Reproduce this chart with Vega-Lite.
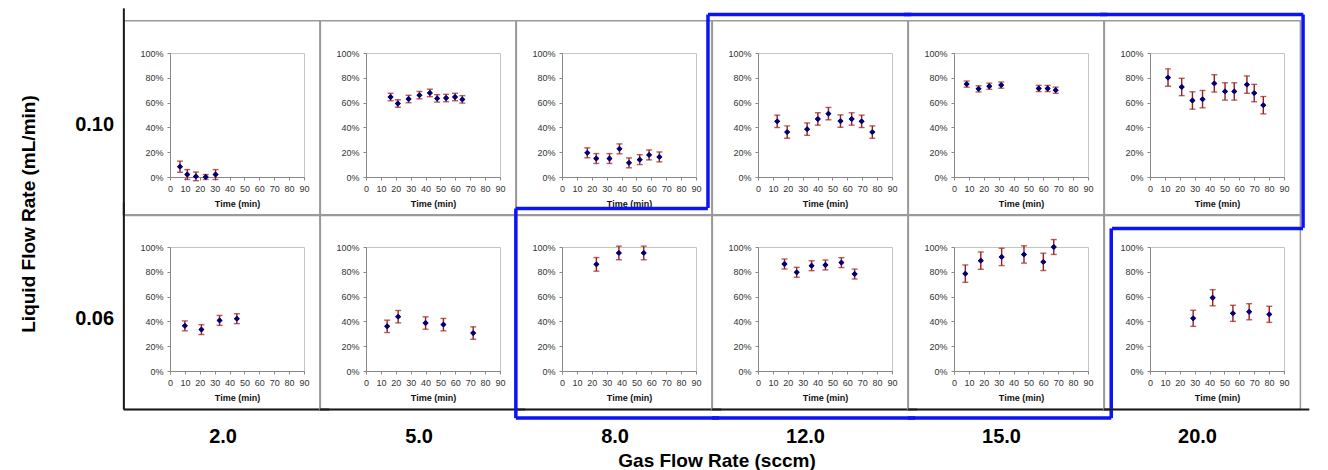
{
  "$schema": "https://vega.github.io/schema/vega-lite/v6.json",
  "background": "white",
  "padding": {"left": 19, "top": 6, "right": 5, "bottom": 0},
  "data": {"values": [
    {"liquid": "0.10", "gas": "2.0", "t": 6.7, "v": 0.083, "e": 0.045},
    {"liquid": "0.10", "gas": "2.0", "t": 11.6, "v": 0.02, "e": 0.04},
    {"liquid": "0.10", "gas": "2.0", "t": 17.4, "v": 0.005, "e": 0.035},
    {"liquid": "0.10", "gas": "2.0", "t": 24.0, "v": 0.0, "e": 0.02},
    {"liquid": "0.10", "gas": "2.0", "t": 30.6, "v": 0.02, "e": 0.04},
    {"liquid": "0.10", "gas": "5.0", "t": 16.5, "v": 0.645, "e": 0.03},
    {"liquid": "0.10", "gas": "5.0", "t": 21.4, "v": 0.593, "e": 0.03},
    {"liquid": "0.10", "gas": "5.0", "t": 28.6, "v": 0.629, "e": 0.03},
    {"liquid": "0.10", "gas": "5.0", "t": 35.9, "v": 0.66, "e": 0.03},
    {"liquid": "0.10", "gas": "5.0", "t": 42.9, "v": 0.678, "e": 0.03},
    {"liquid": "0.10", "gas": "5.0", "t": 47.8, "v": 0.634, "e": 0.03},
    {"liquid": "0.10", "gas": "5.0", "t": 53.8, "v": 0.637, "e": 0.03},
    {"liquid": "0.10", "gas": "5.0", "t": 59.8, "v": 0.645, "e": 0.03},
    {"liquid": "0.10", "gas": "5.0", "t": 64.7, "v": 0.626, "e": 0.03},
    {"liquid": "0.10", "gas": "8.0", "t": 17.0, "v": 0.195, "e": 0.04},
    {"liquid": "0.10", "gas": "8.0", "t": 23.0, "v": 0.149, "e": 0.04},
    {"liquid": "0.10", "gas": "8.0", "t": 31.9, "v": 0.149, "e": 0.04},
    {"liquid": "0.10", "gas": "8.0", "t": 38.6, "v": 0.227, "e": 0.04},
    {"liquid": "0.10", "gas": "8.0", "t": 45.0, "v": 0.114, "e": 0.04},
    {"liquid": "0.10", "gas": "8.0", "t": 52.2, "v": 0.14, "e": 0.04},
    {"liquid": "0.10", "gas": "8.0", "t": 58.5, "v": 0.178, "e": 0.04},
    {"liquid": "0.10", "gas": "8.0", "t": 65.4, "v": 0.162, "e": 0.04},
    {"liquid": "0.10", "gas": "12.0", "t": 12.9, "v": 0.449, "e": 0.05},
    {"liquid": "0.10", "gas": "12.0", "t": 19.6, "v": 0.362, "e": 0.05},
    {"liquid": "0.10", "gas": "12.0", "t": 33.0, "v": 0.386, "e": 0.05},
    {"liquid": "0.10", "gas": "12.0", "t": 40.2, "v": 0.468, "e": 0.05},
    {"liquid": "0.10", "gas": "12.0", "t": 47.3, "v": 0.511, "e": 0.05},
    {"liquid": "0.10", "gas": "12.0", "t": 55.4, "v": 0.451, "e": 0.05},
    {"liquid": "0.10", "gas": "12.0", "t": 62.9, "v": 0.468, "e": 0.05},
    {"liquid": "0.10", "gas": "12.0", "t": 69.6, "v": 0.449, "e": 0.05},
    {"liquid": "0.10", "gas": "12.0", "t": 76.8, "v": 0.362, "e": 0.05},
    {"liquid": "0.10", "gas": "15.0", "t": 8.5, "v": 0.749, "e": 0.025},
    {"liquid": "0.10", "gas": "15.0", "t": 16.5, "v": 0.711, "e": 0.025},
    {"liquid": "0.10", "gas": "15.0", "t": 23.7, "v": 0.732, "e": 0.025},
    {"liquid": "0.10", "gas": "15.0", "t": 31.7, "v": 0.741, "e": 0.025},
    {"liquid": "0.10", "gas": "15.0", "t": 56.9, "v": 0.714, "e": 0.025},
    {"liquid": "0.10", "gas": "15.0", "t": 62.9, "v": 0.714, "e": 0.025},
    {"liquid": "0.10", "gas": "15.0", "t": 68.3, "v": 0.70, "e": 0.025},
    {"liquid": "0.10", "gas": "20.0", "t": 12.1, "v": 0.802, "e": 0.07},
    {"liquid": "0.10", "gas": "20.0", "t": 21.3, "v": 0.726, "e": 0.07},
    {"liquid": "0.10", "gas": "20.0", "t": 28.5, "v": 0.617, "e": 0.07},
    {"liquid": "0.10", "gas": "20.0", "t": 35.3, "v": 0.628, "e": 0.07},
    {"liquid": "0.10", "gas": "20.0", "t": 43.2, "v": 0.755, "e": 0.07},
    {"liquid": "0.10", "gas": "20.0", "t": 50.4, "v": 0.69, "e": 0.07},
    {"liquid": "0.10", "gas": "20.0", "t": 56.6, "v": 0.69, "e": 0.07},
    {"liquid": "0.10", "gas": "20.0", "t": 65.1, "v": 0.745, "e": 0.07},
    {"liquid": "0.10", "gas": "20.0", "t": 70.0, "v": 0.677, "e": 0.07},
    {"liquid": "0.10", "gas": "20.0", "t": 76.1, "v": 0.579, "e": 0.07},
    {"liquid": "0.06", "gas": "2.0", "t": 10.0, "v": 0.364, "e": 0.04},
    {"liquid": "0.06", "gas": "2.0", "t": 21.1, "v": 0.334, "e": 0.04},
    {"liquid": "0.06", "gas": "2.0", "t": 33.3, "v": 0.408, "e": 0.04},
    {"liquid": "0.06", "gas": "2.0", "t": 44.9, "v": 0.422, "e": 0.04},
    {"liquid": "0.06", "gas": "5.0", "t": 14.2, "v": 0.36, "e": 0.05},
    {"liquid": "0.06", "gas": "5.0", "t": 21.6, "v": 0.438, "e": 0.05},
    {"liquid": "0.06", "gas": "5.0", "t": 40.0, "v": 0.387, "e": 0.05},
    {"liquid": "0.06", "gas": "5.0", "t": 52.0, "v": 0.374, "e": 0.05},
    {"liquid": "0.06", "gas": "5.0", "t": 72.0, "v": 0.306, "e": 0.05},
    {"liquid": "0.06", "gas": "8.0", "t": 23.1, "v": 0.86, "e": 0.055},
    {"liquid": "0.06", "gas": "8.0", "t": 38.2, "v": 0.952, "e": 0.055},
    {"liquid": "0.06", "gas": "8.0", "t": 54.9, "v": 0.952, "e": 0.055},
    {"liquid": "0.06", "gas": "12.0", "t": 17.8, "v": 0.863, "e": 0.04},
    {"liquid": "0.06", "gas": "12.0", "t": 26.0, "v": 0.796, "e": 0.04},
    {"liquid": "0.06", "gas": "12.0", "t": 36.0, "v": 0.849, "e": 0.04},
    {"liquid": "0.06", "gas": "12.0", "t": 45.3, "v": 0.855, "e": 0.04},
    {"liquid": "0.06", "gas": "12.0", "t": 56.0, "v": 0.874, "e": 0.04},
    {"liquid": "0.06", "gas": "12.0", "t": 64.9, "v": 0.782, "e": 0.04},
    {"liquid": "0.06", "gas": "15.0", "t": 7.6, "v": 0.785, "e": 0.07},
    {"liquid": "0.06", "gas": "15.0", "t": 18.0, "v": 0.89, "e": 0.07},
    {"liquid": "0.06", "gas": "15.0", "t": 32.0, "v": 0.92, "e": 0.07},
    {"liquid": "0.06", "gas": "15.0", "t": 47.0, "v": 0.94, "e": 0.07},
    {"liquid": "0.06", "gas": "15.0", "t": 60.0, "v": 0.88, "e": 0.07},
    {"liquid": "0.06", "gas": "15.0", "t": 67.0, "v": 1.0, "e": 0.06},
    {"liquid": "0.06", "gas": "20.0", "t": 29.0, "v": 0.425, "e": 0.065},
    {"liquid": "0.06", "gas": "20.0", "t": 42.1, "v": 0.591, "e": 0.065},
    {"liquid": "0.06", "gas": "20.0", "t": 55.7, "v": 0.465, "e": 0.065},
    {"liquid": "0.06", "gas": "20.0", "t": 66.6, "v": 0.478, "e": 0.065},
    {"liquid": "0.06", "gas": "20.0", "t": 80.1, "v": 0.457, "e": 0.065}
  ]},
  "facet": {
    "row": {
      "field": "liquid", "type": "nominal", "sort": ["0.10", "0.06"],
      "title": "Liquid Flow Rate (mL/min)",
      "header": {
        "labelOrient": "left", "labelAngle": 0, "labelAlign": "right", "labelBaseline": "top",
        "labelFont": "Liberation Sans", "labelFontSize": 20, "labelFontWeight": "bold", "labelColor": "#000",
        "labelPadding": 17,
        "titleOrient": "left", "titleFont": "Liberation Sans", "titleFontSize": 19, "titleFontWeight": "bold",
        "titleColor": "#000", "titlePadding": 26
      }
    },
    "column": {
      "field": "gas", "type": "nominal", "sort": ["2.0", "5.0", "8.0", "12.0", "15.0", "20.0"],
      "title": "Gas Flow Rate (sccm)",
      "header": {
        "labelOrient": "bottom", "labelAlign": "right",
        "labelFont": "Liberation Sans", "labelFontSize": 20, "labelFontWeight": "bold", "labelColor": "#000",
        "labelPadding": 56,
        "titleOrient": "bottom", "titleFont": "Liberation Sans", "titleFontSize": 19, "titleFontWeight": "bold",
        "titleColor": "#000", "titlePadding": -5
      }
    }
  },
  "spacing": {"row": 70, "column": 62},
  "bounds": "flush",
  "resolve": {"axis": {"x": "independent", "y": "independent"}},
  "spec": {
    "width": 134,
    "height": 124,
    "layer": [
      {
        "mark": {"type": "point", "shape": "diamond", "filled": true, "color": "#00007a", "opacity": 1, "size": 34},
        "encoding": {
          "x": {
            "field": "t", "type": "quantitative",
            "scale": {"domain": [0, 90], "nice": false, "zero": false},
            "axis": {"title": "Time (min)", "tickCount": 10, "labelFlush": false, "labelOverlap": false, "labelSeparation": 0, "labelBound": false}
          },
          "y": {
            "field": "v", "type": "quantitative",
            "scale": {"domain": [0, 1], "nice": false},
            "axis": {"title": null, "tickCount": 5, "format": ".0%", "labelFlush": false, "labelOverlap": false, "labelSeparation": 0, "labelBound": false}
          }
        }
      },
      {
        "transform": [{"aggregate": [{"op": "count", "as": "n"}], "groupby": ["liquid", "gas"]}],
        "mark": {"type": "rect", "fill": "transparent", "stroke": "#9a9a9a", "strokeWidth": 1.5},
        "encoding": {"x": {"datum": -31}, "x2": {"datum": 101}, "y": {"datum": -0.31}, "y2": {"datum": 1.26}}
      },
      {
        "transform": [{"aggregate": [{"op": "count", "as": "n"}], "groupby": ["liquid", "gas"]}, {"filter": "datum.gas == '2.0'"}],
        "mark": {"type": "rule", "color": "#1a1a1a", "strokeWidth": 2},
        "encoding": {"x": {"datum": -31}, "y": {"datum": -0.31}, "y2": {"datum": 1.36}}
      },
      {
        "transform": [{"aggregate": [{"op": "count", "as": "n"}], "groupby": ["liquid", "gas"]}, {"filter": "datum.liquid == '0.06'"}],
        "mark": {"type": "rule", "color": "#1a1a1a", "strokeWidth": 2},
        "encoding": {"x": {"datum": -31}, "x2": {"datum": 107}, "y": {"datum": -0.31}}
      },
      {
        "transform": [{"aggregate": [{"op": "count", "as": "n"}], "groupby": ["liquid", "gas"]}, {"filter": "datum.liquid == '0.10' && (datum.gas == '12.0' || datum.gas == '15.0' || datum.gas == '20.0')"}],
        "mark": {"type": "rule", "color": "#0a14f5", "strokeWidth": 3.5},
        "encoding": {"x": {"datum": -33.6}, "x2": {"datum": 103}, "y": {"datum": 1.31}}
      },
      {
        "transform": [{"aggregate": [{"op": "count", "as": "n"}], "groupby": ["liquid", "gas"]}, {"filter": "datum.liquid == '0.06' && datum.gas == '8.0'"}],
        "mark": {"type": "rule", "color": "#0a14f5", "strokeWidth": 3.5},
        "encoding": {"x": {"datum": -31}, "x2": {"datum": 98}, "y": {"datum": 1.31}}
      },
      {
        "transform": [{"aggregate": [{"op": "count", "as": "n"}], "groupby": ["liquid", "gas"]}, {"filter": "datum.liquid == '0.10' && datum.gas == '12.0'"}],
        "mark": {"type": "rule", "color": "#0a14f5", "strokeWidth": 3.5},
        "encoding": {"x": {"datum": -33.6}, "y": {"datum": 1.31}, "y2": {"datum": -0.25}}
      },
      {
        "transform": [{"aggregate": [{"op": "count", "as": "n"}], "groupby": ["liquid", "gas"]}, {"filter": "datum.liquid == '0.06' && datum.gas == '8.0'"}],
        "mark": {"type": "rule", "color": "#0a14f5", "strokeWidth": 3.5},
        "encoding": {"x": {"datum": -31}, "y": {"datum": 1.31}, "y2": {"datum": -0.38}}
      },
      {
        "transform": [{"aggregate": [{"op": "count", "as": "n"}], "groupby": ["liquid", "gas"]}, {"filter": "datum.liquid == '0.06' && (datum.gas == '8.0' || datum.gas == '12.0' || datum.gas == '15.0')"}],
        "mark": {"type": "rule", "color": "#0a14f5", "strokeWidth": 3.5},
        "encoding": {"x": {"datum": -31}, "x2": {"datum": 105.6}, "y": {"datum": -0.38}}
      },
      {
        "transform": [{"aggregate": [{"op": "count", "as": "n"}], "groupby": ["liquid", "gas"]}, {"filter": "datum.liquid == '0.06' && datum.gas == '15.0'"}],
        "mark": {"type": "rule", "color": "#0a14f5", "strokeWidth": 3.5},
        "encoding": {"x": {"datum": 105.6}, "y": {"datum": -0.38}, "y2": {"datum": 1.15}}
      },
      {
        "transform": [{"aggregate": [{"op": "count", "as": "n"}], "groupby": ["liquid", "gas"]}, {"filter": "datum.liquid == '0.06' && datum.gas == '20.0'"}],
        "mark": {"type": "rule", "color": "#0a14f5", "strokeWidth": 3.5},
        "encoding": {"x": {"datum": -25.5}, "x2": {"datum": 102.8}, "y": {"datum": 1.15}}
      },
      {
        "transform": [{"aggregate": [{"op": "count", "as": "n"}], "groupby": ["liquid", "gas"]}, {"filter": "datum.liquid == '0.10' && datum.gas == '20.0'"}],
        "mark": {"type": "rule", "color": "#0a14f5", "strokeWidth": 3.5},
        "encoding": {"x": {"datum": 102.8}, "y": {"datum": 1.31}, "y2": {"datum": -0.41}}
      },
      {
        "mark": {"type": "errorbar", "color": "#9b1c1c", "thickness": 1.4, "ticks": {"size": 6, "thickness": 1.4, "color": "#9b1c1c"}},
        "encoding": {
          "x": {"field": "t", "type": "quantitative"},
          "y": {"field": "v", "type": "quantitative"},
          "yError": {"field": "e"}
        }
      },
      {
        "mark": {"type": "point", "shape": "diamond", "filled": true, "color": "#00007a", "opacity": 1, "size": 34},
        "encoding": {
          "x": {"field": "t", "type": "quantitative"},
          "y": {"field": "v", "type": "quantitative"}
        }
      }
    ]
  },
  "config": {
    "view": {"stroke": "#c4c4c4", "strokeWidth": 1},
    "axis": {
      "labelFont": "Liberation Sans", "labelFontSize": 9, "labelColor": "#333",
      "titleFont": "Liberation Sans", "titleFontSize": 9, "titleFontWeight": "bold", "titleColor": "#111",
      "domainColor": "#888", "tickColor": "#888", "tickSize": 3, "grid": false,
      "labelOverlap": false
    },
    "axisX": {"labelPadding": 4, "titlePadding": 6},
    "axisY": {"labelPadding": 4}
  }
}
